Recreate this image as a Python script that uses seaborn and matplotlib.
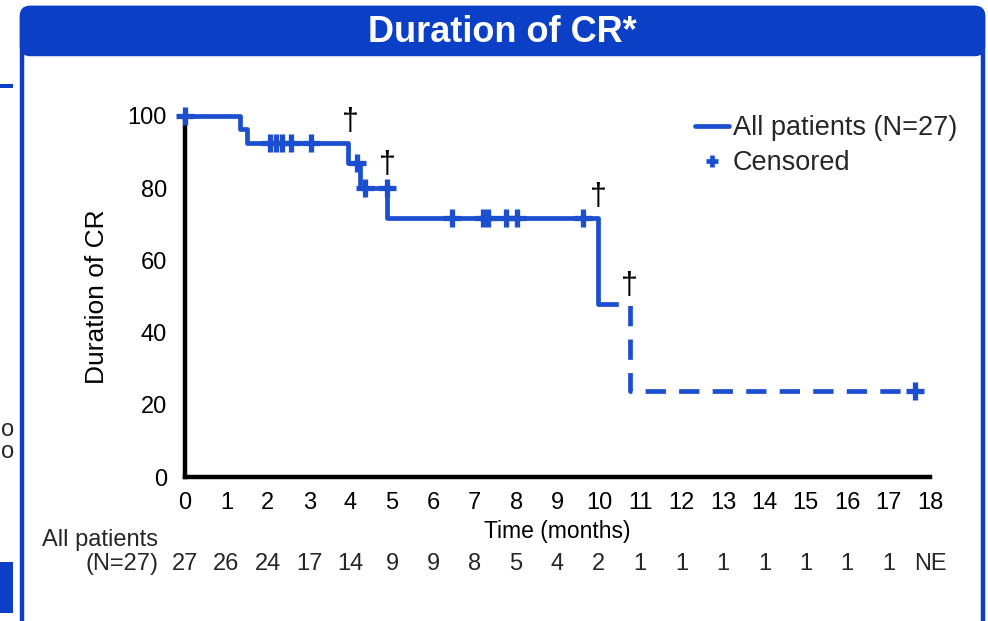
import matplotlib
matplotlib.use("Agg")
import matplotlib.pyplot as plt
import matplotlib.transforms as mtransforms
from matplotlib.patches import FancyBboxPatch, Rectangle
from matplotlib.lines import Line2D
import seaborn as sns
import pandas as pd

# step curve (time in months, % in CR)
solid_t = [0, 1.33, 1.5, 3.94, 4.23, 4.88, 9.98]
solid_s = [100, 96.3, 92.6, 87.0, 80.0, 71.8, 47.9]
dash_t = [9.98, 10.75, 17.63]
dash_s = [47.9, 23.9, 23.9]

# censored marks
cens_t = [0, 2.05, 2.2, 2.35, 2.55, 3.04, 4.15, 4.35, 4.88, 6.45, 7.2, 7.32, 7.75, 8.02, 9.61, 17.63]
cens_s = [100, 92.6, 92.6, 92.6, 92.6, 92.6, 87.0, 80.0, 80.0, 71.8, 71.8, 71.8, 71.8, 71.8, 71.8, 23.9]

# deaths (dagger symbols)
dagger_t = [3.99, 4.9, 9.98, 10.75]
dagger_y = [98.3, 86.4, 77.6, 52.9]

months = list(range(0, 19))
at_risk = ["27", "26", "24", "17", "14", "9", "9", "8", "5", "4", "2",
           "1", "1", "1", "1", "1", "1", "1", "NE"]

BLUE = "#1c4fd0"
BAR = "#0b3fc6"

sns.set_style("white")
plt.rcParams["font.family"] = ["Liberation Sans", "DejaVu Sans"]

fig = plt.figure(figsize=(9.88, 6.21), dpi=100)

# background layer in pixel coordinates
bg = fig.add_axes([0, 0, 1, 1], zorder=0)
bg.set_xlim(0, 988)
bg.set_ylim(621, 0)
bg.axis("off")
bg.add_patch(FancyBboxPatch((22, 8), 961, 660, boxstyle="round,pad=0,rounding_size=8",
                            fc="white", ec=BAR, lw=3.2))
bg.add_patch(FancyBboxPatch((22, 8), 961, 46, boxstyle="round,pad=0,rounding_size=8",
                            fc=BAR, ec=BAR, lw=3.2))
bg.add_patch(Rectangle((22, 40), 961, 14, fc=BAR, ec="none"))
bg.text(502, 32, "Duration of CR*", color="white", fontsize=26, fontweight="bold",
        ha="center", va="center")
# bits of the neighbouring slide
bg.add_patch(Rectangle((0, 84), 13, 4, fc=BAR, ec="none"))
bg.add_patch(Rectangle((0, 562), 13, 51, fc=BAR, ec="none"))
bg.text(1, 430, "o", fontsize=17, ha="left", va="center")
bg.text(1, 452, "o", fontsize=17, ha="left", va="center")

ax = fig.add_axes([185 / 988, 1 - 477 / 621, (930 - 185) / 988, (477 - 116) / 621], zorder=1)
ax.set_facecolor("none")

solid = pd.DataFrame({"t": solid_t, "s": solid_s})
dashed = pd.DataFrame({"t": dash_t, "s": dash_s})
sns.lineplot(data=solid, x="t", y="s", ax=ax, color=BLUE, lw=3.4, estimator=None,
             sort=False, drawstyle="steps-post", clip_on=False)
sns.lineplot(data=dashed, x="t", y="s", ax=ax, color=BLUE, lw=3.4, estimator=None,
             sort=False, drawstyle="steps-post", linestyle=(0, (4.3, 2.8)), clip_on=False)
sns.scatterplot(x=cens_t, y=cens_s, ax=ax, marker="+", s=160, linewidth=3.8,
                color=BLUE, clip_on=False, zorder=5)

for t, y in zip(dagger_t, dagger_y):
    ax.text(t, y, "\u2020", fontsize=22, ha="center", va="center", color="black")

ax.set_xlim(0, 18)
ax.set_ylim(0, 100)
ax.set_xticks(months)
ax.set_yticks([0, 20, 40, 60, 80, 100])
ax.tick_params(axis="both", direction="out", length=7, width=2.6, color="black",
               labelsize=17, labelcolor="black")
ax.tick_params(axis="x", pad=4)
ax.tick_params(axis="y", pad=6)
for side in ["top", "right"]:
    ax.spines[side].set_visible(False)
for side in ["left", "bottom"]:
    ax.spines[side].set_linewidth(3.2)
    ax.spines[side].set_color("black")

ax.set_ylabel("Duration of CR", fontsize=19, color="black")
ax.yaxis.set_label_coords(-0.102, 0.5)
ax.set_xlabel("Time (months)", fontsize=16.5, color="black", labelpad=4)

# number at risk
trans = mtransforms.blended_transform_factory(ax.transData, bg.transData)
for m, n in zip(months, at_risk):
    ax.text(m, 564, n, transform=trans, fontsize=17, ha="center", va="center")
bg.text(158, 540, "All patients", fontsize=17, ha="right", va="center")
bg.text(158, 564, "(N=27)", fontsize=17, ha="right", va="center")

handles = [Line2D([], [], color=BLUE, lw=3.4),
           Line2D([], [], color=BLUE, marker="+", ms=9, mew=3.4, ls="none")]
fig.legend(handles, ["All patients (N=27)", "Censored"], loc="upper left",
           bbox_to_anchor=(695 / 988, 1 - 115 / 621), frameon=False, fontsize=19.5,
           handlelength=1.25, handletextpad=0.15, labelspacing=0.35, borderpad=0,
           borderaxespad=0)

fig.savefig("out.png", dpi=100)
